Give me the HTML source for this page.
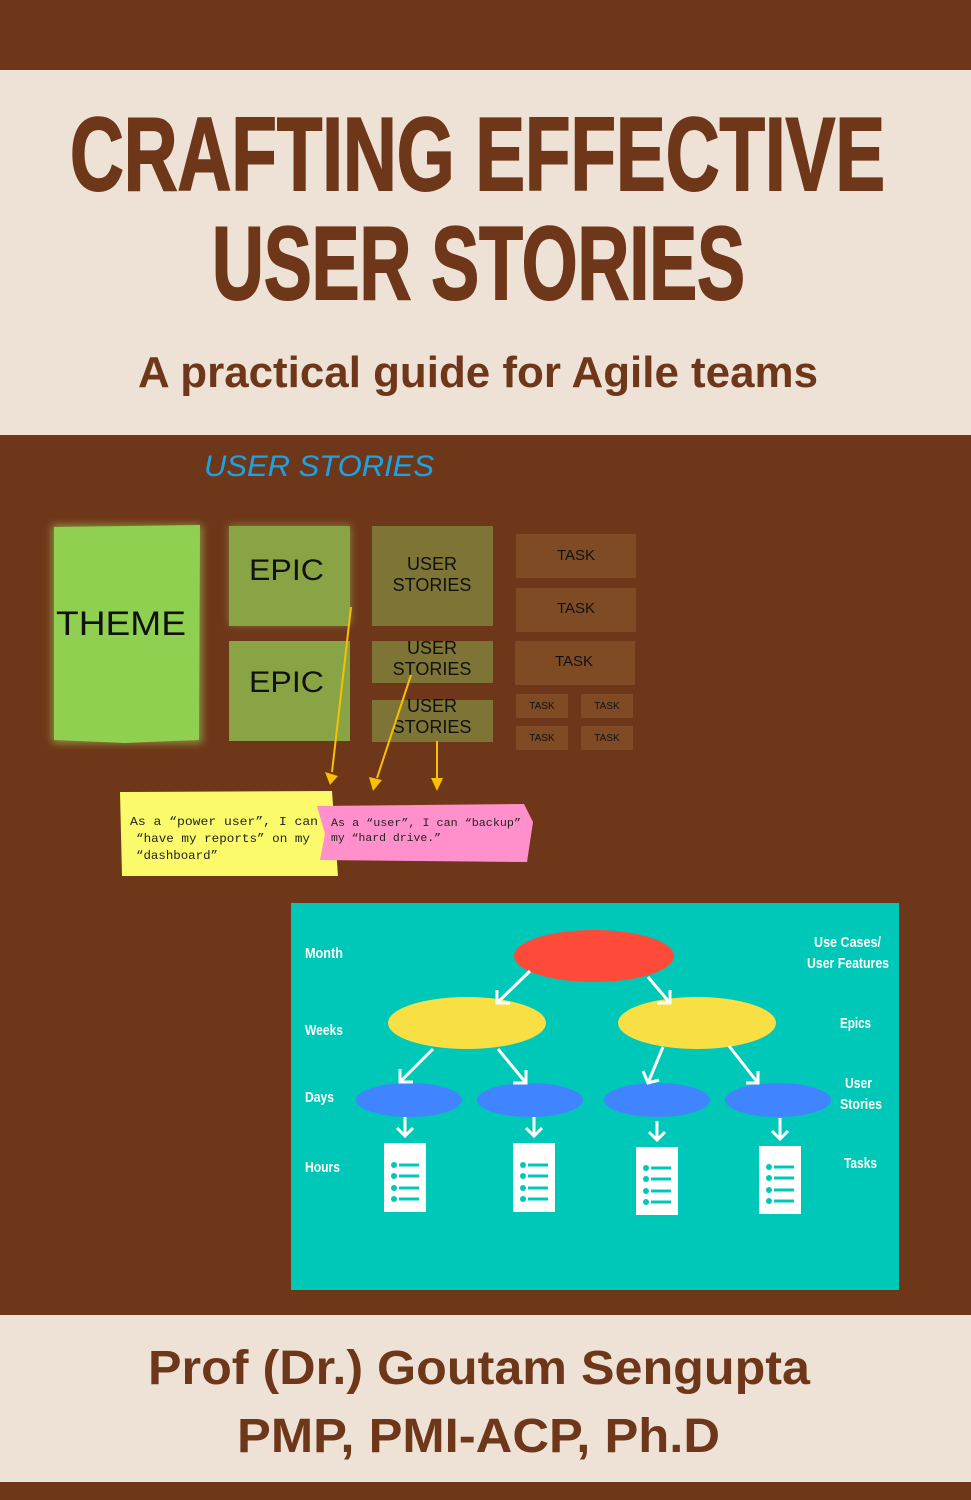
<!DOCTYPE html>
<html><head><meta charset="utf-8"><style>
html,body{margin:0;padding:0;background:#6f3719;}
svg{display:block}
</style></head><body>
<svg width="971" height="1500" viewBox="0 0 971 1500" xmlns="http://www.w3.org/2000/svg" font-family="Liberation Sans, sans-serif">
<defs>
<filter id="glow" x="-20%" y="-20%" width="140%" height="140%"><feGaussianBlur stdDeviation="4"/></filter>
</defs>
<rect width="971" height="1500" fill="#6f3719"/>
<rect y="70" width="971" height="365" fill="#eee2d7"/>
<rect y="1315" width="971" height="167" fill="#eee2d7"/>
<g fill="#6f3719" font-weight="bold">
<text x="70" y="190" font-size="104" textLength="815" lengthAdjust="spacingAndGlyphs" stroke="#6f3719" stroke-width="2">CRAFTING EFFECTIVE</text>
<text x="212" y="299" font-size="104" textLength="533" lengthAdjust="spacingAndGlyphs" stroke="#6f3719" stroke-width="2">USER STORIES</text>
<text x="138" y="387" font-size="44" textLength="680" lengthAdjust="spacingAndGlyphs">A practical guide for Agile teams</text>
<text x="148" y="1384" font-size="48" textLength="662" lengthAdjust="spacingAndGlyphs">Prof (Dr.) Goutam Sengupta</text>
<text x="237" y="1452" font-size="48" textLength="483" lengthAdjust="spacingAndGlyphs">PMP, PMI-ACP, Ph.D</text>
</g>
<text x="204" y="476" font-size="30" font-style="italic" fill="#1aa3e8" textLength="230" lengthAdjust="spacingAndGlyphs">USER STORIES</text>
<g filter="url(#glow)" opacity="0.6">
<rect x="52" y="525" width="150" height="218" fill="#a0d060"/>
<rect x="229" y="525" width="122" height="100" fill="#90a858"/>
</g>
<path d="M54,527 L200,525 L199,740 L125,743 L54,740 Z" fill="#8fd050"/>
<rect x="229" y="526" width="121" height="100" fill="#88a444"/>
<rect x="229" y="641" width="121" height="100" fill="#88a444"/>
<rect x="372" y="526" width="121" height="100" fill="#7d7436"/>
<rect x="372" y="641" width="121" height="42" fill="#7d7436"/>
<rect x="372" y="700" width="121" height="42" fill="#7d7436"/>
<g fill="#7e4b24">
<rect x="516" y="534" width="120" height="44"/>
<rect x="516" y="588" width="120" height="44"/>
<rect x="515" y="641" width="120" height="44"/>
<rect x="516" y="694" width="52" height="24"/>
<rect x="581" y="694" width="52" height="24"/>
<rect x="516" y="726" width="52" height="24"/>
<rect x="581" y="726" width="52" height="24"/>
</g>
<g fill="#111">
<text x="56" y="635" font-size="34" textLength="130" lengthAdjust="spacingAndGlyphs">THEME</text>
<text x="249" y="580" font-size="30" textLength="75" lengthAdjust="spacingAndGlyphs">EPIC</text>
<text x="249" y="692" font-size="30" textLength="75" lengthAdjust="spacingAndGlyphs">EPIC</text>
<g font-size="18" text-anchor="middle">
<text x="432" y="570">USER</text><text x="432" y="591">STORIES</text>
<text x="432" y="654">USER</text><text x="432" y="675">STORIES</text>
<text x="432" y="712">USER</text><text x="432" y="733">STORIES</text>
</g>
<g font-size="15" text-anchor="middle">
<text x="576" y="560">TASK</text><text x="576" y="613">TASK</text><text x="574" y="666">TASK</text>
</g>
<g font-size="10" text-anchor="middle">
<text x="542" y="709">TASK</text><text x="607" y="709">TASK</text>
<text x="542" y="741">TASK</text><text x="607" y="741">TASK</text>
</g>
</g>
<g stroke="#f7c000" stroke-width="2">
<line x1="351" y1="607" x2="332" y2="772"/>
<line x1="411" y1="675" x2="377" y2="778"/>
<line x1="437" y1="741" x2="437" y2="780"/>
</g>
<g fill="#f7c000">
<path d="M325,772 L338,776 L330,785z"/>
<path d="M369,777 L382,780 L373,791z"/>
<path d="M431,778 L443,778 L437,791z"/>
</g>
<path d="M120,792 L332,791 L338,876 L122,876 Z" fill="#fafa6a"/>
<path d="M317,806 L524,804 L533,822 L527,862 L320,860 L325,834 Z" fill="#ff90cc"/>
<g font-family="Liberation Mono, monospace" fill="#222" font-size="12">
<text x="130" y="825" textLength="188" lengthAdjust="spacingAndGlyphs">As a “power user”, I can</text>
<text x="136" y="842" textLength="174" lengthAdjust="spacingAndGlyphs">“have my reports” on my</text>
<text x="136" y="859" textLength="82" lengthAdjust="spacingAndGlyphs">“dashboard”</text>
<text x="331" y="826" font-size="11" textLength="190" lengthAdjust="spacingAndGlyphs">As a “user”, I can “backup”</text>
<text x="331" y="841" font-size="11" textLength="110" lengthAdjust="spacingAndGlyphs">my “hard drive.”</text>
</g>
<rect x="291" y="903" width="608" height="387" fill="#00c8b8"/>
<ellipse cx="594" cy="956" rx="80" ry="26" fill="#fe4a38"/>
<ellipse cx="467" cy="1023" rx="79" ry="26" fill="#f7df44"/>
<ellipse cx="697" cy="1023" rx="79" ry="26" fill="#f7df44"/>
<g fill="#4085ff">
<ellipse cx="409" cy="1100" rx="53" ry="17"/>
<ellipse cx="530" cy="1100" rx="53" ry="17"/>
<ellipse cx="657" cy="1100" rx="53" ry="17"/>
<ellipse cx="778" cy="1100" rx="53" ry="17"/>
</g>
<g stroke="#fff" stroke-width="3" fill="none">
<path d="M530,971 L497,1003 M497,990 L497,1003 L510,1003"/>
<path d="M648,977 L670,1003 M670,990 L670,1003 L657,1003"/>
<path d="M433,1049 L400,1082 M400,1069 L400,1082 L413,1082"/>
<path d="M498,1049 L526,1083 M526,1070 L526,1083 L513,1083"/>
<path d="M663,1047 L648,1083 M643,1071 L648,1083 L659,1080"/>
<path d="M729,1046 L758,1083 M758,1071 L758,1083 L746,1083"/>
<path d="M405,1117 L405,1136 M397,1128 L405,1136 L413,1128"/>
<path d="M534,1117 L534,1136 M526,1128 L534,1136 L542,1128"/>
<path d="M657,1121 L657,1140 M649,1132 L657,1140 L665,1132"/>
<path d="M780,1118 L780,1139 M772,1131 L780,1139 L788,1131"/>
</g>
<g fill="#fff">
<rect x="384" y="1143" width="42" height="69"/>
<rect x="513" y="1143" width="42" height="69"/>
<rect x="636" y="1147" width="42" height="68"/>
<rect x="759" y="1146" width="42" height="68"/>
</g>
<g fill="#00c8b8">
<g id="lst"><circle cx="394" cy="1165" r="3"/><rect x="399" y="1163.5" width="20" height="3"/><circle cx="394" cy="1176" r="3"/><rect x="399" y="1174.5" width="20" height="3"/><circle cx="394" cy="1188" r="3"/><rect x="399" y="1186.5" width="20" height="3"/><circle cx="394" cy="1199" r="3"/><rect x="399" y="1197.5" width="20" height="3"/></g>
<use href="#lst" x="129"/>
<use href="#lst" x="252" y="3"/>
<use href="#lst" x="375" y="2"/>
</g>
<g fill="#fff" font-weight="bold" font-size="15">
<text x="305" y="958" textLength="38" lengthAdjust="spacingAndGlyphs">Month</text>
<text x="305" y="1035" textLength="38" lengthAdjust="spacingAndGlyphs">Weeks</text>
<text x="305" y="1102" textLength="29" lengthAdjust="spacingAndGlyphs">Days</text>
<text x="305" y="1172" textLength="35" lengthAdjust="spacingAndGlyphs">Hours</text>
<text x="814" y="947" textLength="67" lengthAdjust="spacingAndGlyphs">Use Cases/</text>
<text x="807" y="968" textLength="82" lengthAdjust="spacingAndGlyphs">User Features</text>
<text x="840" y="1028" textLength="31" lengthAdjust="spacingAndGlyphs">Epics</text>
<text x="845" y="1088" textLength="27" lengthAdjust="spacingAndGlyphs">User</text>
<text x="840" y="1109" textLength="42" lengthAdjust="spacingAndGlyphs">Stories</text>
<text x="844" y="1168" textLength="33" lengthAdjust="spacingAndGlyphs">Tasks</text>
</g>
</svg>
</body></html>
